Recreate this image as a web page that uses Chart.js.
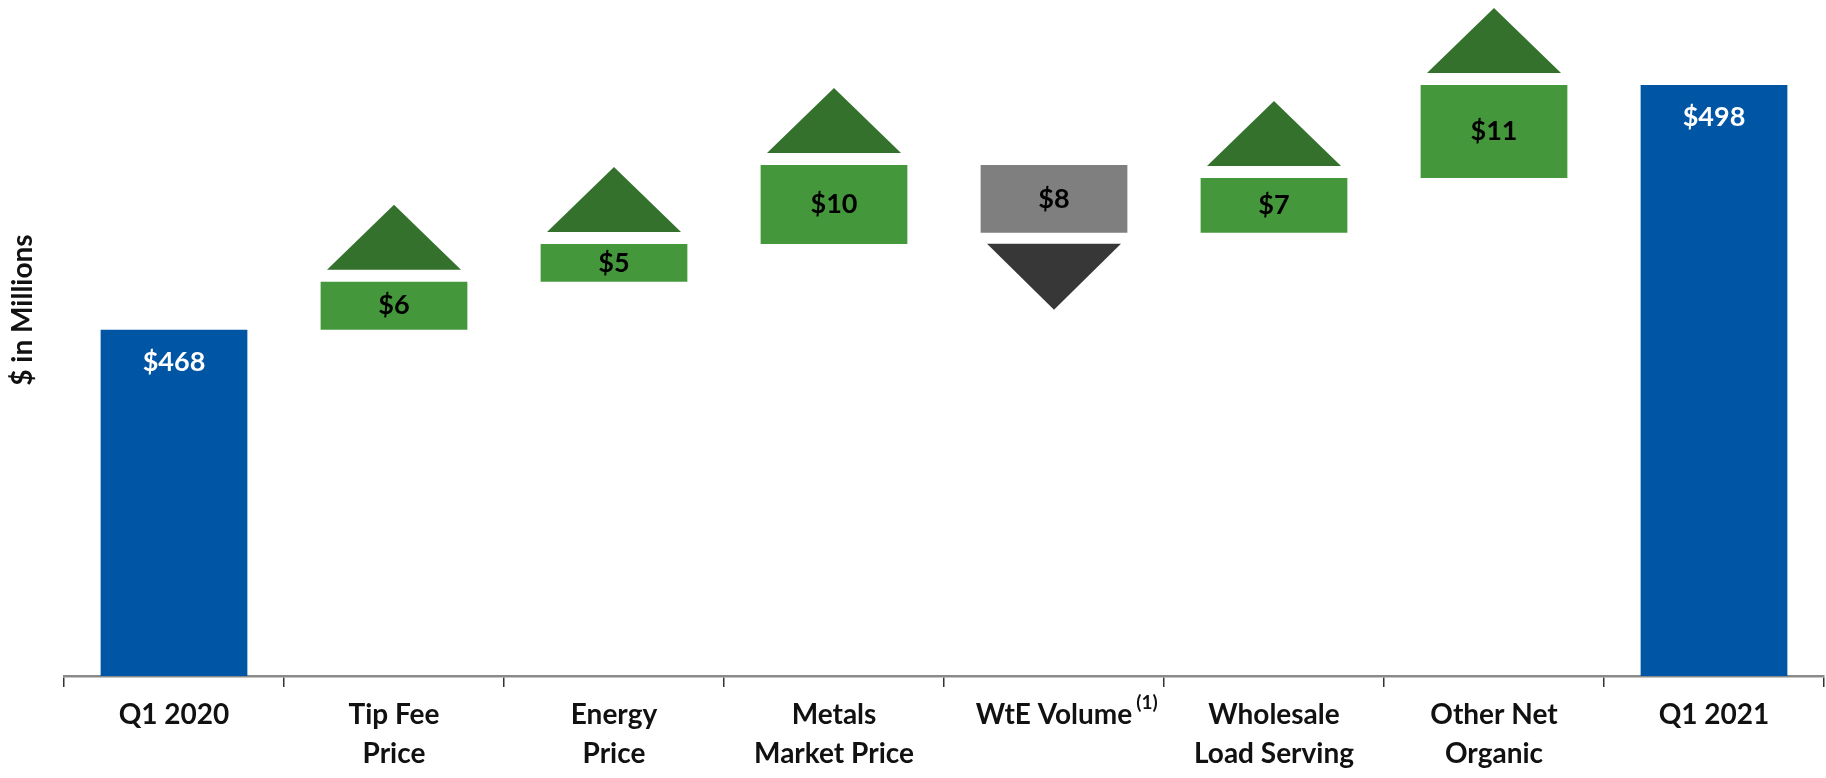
<!DOCTYPE html>
<html>
<head>
<meta charset="utf-8">
<script src="https://cdn.jsdelivr.net/npm/chart.js@4.4.1/dist/chart.umd.min.js"></script>
<style>
  body { margin: 0; background: #fff; }
  canvas { display: block; }
</style>
</head>
<body>
<canvas id="myChart" width="1826" height="778"></canvas>
<script>
const categories = [
  ['Q1 2020'],
  ['Tip Fee', 'Price'],
  ['Energy', 'Price'],
  ['Metals', 'Market Price'],
  ['WtE Volume'],
  ['Wholesale', 'Load Serving'],
  ['Other Net', 'Organic'],
  ['Q1 2021']
];
const startTotal = 468;
const endTotal = 498;
// changes between the two quarters ($M)
const changes = [5.9, 4.6, 9.7, -8.3, 6.7, 11.4];
const footnoteIndex = 4;
const footnoteText = '(1)';
const yMin = 425.6;
const yMax = 508.4;

const BLUE = '#0055a5';
const GREEN = '#45973c';
const GREY = '#7f7f7f';
const UP_ARROW = '#33712d';
const DOWN_ARROW = '#373737';
const FONT = 'Lato, "Liberation Sans", sans-serif';

// build floating bars
let running = startTotal;
const bars = [[yMin, startTotal]];
const colors = [BLUE];
const labels = ['$' + startTotal];
changes.forEach(c => {
  bars.push([running, running + c]);
  running += c;
  colors.push(c >= 0 ? GREEN : GREY);
  labels.push('$' + Math.round(Math.abs(c)));
});
bars.push([yMin, endTotal]);
colors.push(BLUE);
labels.push('$' + endTotal);

const extras = {
  id: 'extras',
  afterDatasetsDraw(chart) {
    const ctx = chart.ctx;
    const meta = chart.getDatasetMeta(0);
    ctx.save();
    meta.data.forEach((bar, i) => {
      const top = Math.min(bar.y, bar.base);
      const bottom = Math.max(bar.y, bar.base);
      const isTotal = i === 0 || i === meta.data.length - 1;
      if (!isTotal) {
        const c = changes[i - 1];
        ctx.beginPath();
        if (c >= 0) {
          const b = top - 12;
          ctx.moveTo(bar.x - 67, b);
          ctx.lineTo(bar.x + 67, b);
          ctx.lineTo(bar.x, b - 65);
          ctx.fillStyle = UP_ARROW;
        } else {
          const b = bottom + 11;
          ctx.moveTo(bar.x - 67, b);
          ctx.lineTo(bar.x + 67, b);
          ctx.lineTo(bar.x, b + 66);
          ctx.fillStyle = DOWN_ARROW;
        }
        ctx.closePath();
        ctx.fill();
      }
      ctx.font = 'bold 27px ' + FONT;
      ctx.textAlign = 'center';
      ctx.textBaseline = 'middle';
      if (isTotal) {
        ctx.fillStyle = '#ffffff';
        ctx.fillText(labels[i], bar.x, top + 32);
      } else {
        ctx.fillStyle = '#000000';
        ctx.fillText(labels[i], bar.x, (top + bottom) / 2);
      }
    });

    // footnote marker after "WtE Volume"
    const xs = chart.scales.x;
    ctx.font = 'bold 28px ' + FONT;
    const w = ctx.measureText(categories[footnoteIndex][0]).width;
    ctx.font = 'bold 19px ' + FONT;
    ctx.fillStyle = '#111';
    ctx.textAlign = 'left';
    ctx.textBaseline = 'middle';
    ctx.fillText(footnoteText, xs.getPixelForValue(footnoteIndex) + w / 2 + 4, 703);

    // y axis title
    ctx.translate(23, 310);
    ctx.rotate(-Math.PI / 2);
    ctx.font = 'bold 28px ' + FONT;
    ctx.fillStyle = '#111';
    ctx.textAlign = 'center';
    ctx.fillText('$ in Millions', 0, 0);
    ctx.restore();
  }
};

const ctx = document.getElementById('myChart');

const config = {
  type: 'bar',
  data: {
    labels: categories,
    datasets: [{
      data: bars,
      backgroundColor: colors,
      borderWidth: 0,
      barPercentage: 0.667,
      categoryPercentage: 1
    }]
  },
  options: {
    responsive: false,
    animation: false,
    layout: { padding: { left: 64, right: 2, top: 0, bottom: 0 } },
    plugins: {
      legend: { display: false },
      tooltip: { enabled: false }
    },
    scales: {
      x: {
        offset: true,
        afterFit: (s) => { s.height = 102; },
        grid: {
          offset: true,
          drawOnChartArea: false,
          drawTicks: true,
          tickLength: 11,
          color: '#333',
          lineWidth: 1.5
        },
        border: { display: true, color: '#8a8a8a', width: 2.5 },
        ticks: {
          color: '#111',
          padding: 8,
          maxRotation: 0,
          autoSkip: false,
          font: { family: FONT, size: 28, weight: 'bold', lineHeight: 1.4 }
        }
      },
      y: {
        display: false,
        min: yMin,
        max: yMax
      }
    }
  },
  plugins: [extras]
};

const myChart = new Chart(ctx, config);
</script>
</body>
</html>
